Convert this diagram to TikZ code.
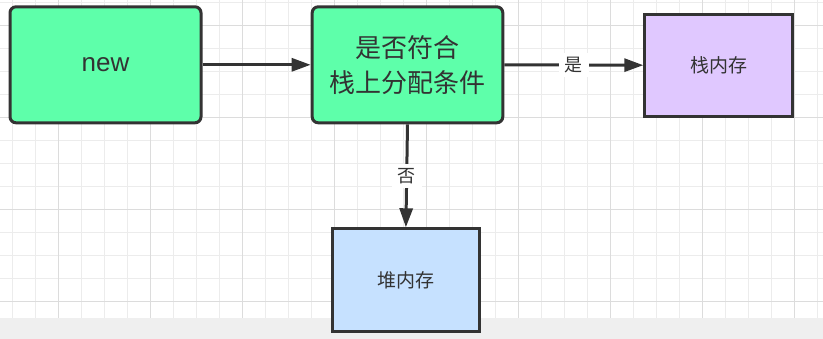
\documentclass[tikz,border=0pt]{standalone}
\usepackage{fontspec}
\setmainfont{Liberation Sans}
\newfontfamily\cjk{Noto Sans CJK SC}
\usetikzlibrary{arrows.meta}
\definecolor{txt}{HTML}{333333}
\definecolor{gminor}{HTML}{ECECEC}
\definecolor{gmajor}{HTML}{DCDCDC}
\definecolor{strip}{HTML}{EFEFEF}
\definecolor{greenbox}{HTML}{5EFFAA}
\definecolor{purplebox}{HTML}{E0C8FF}
\definecolor{bluebox}{HTML}{C6E1FF}
\tikzset{
  box/.style={draw=txt, line width=3pt, text=txt, align=center, inner sep=0pt},
  greenstyle/.style={box, fill=greenbox, rounded corners=6pt, minimum width=191pt, minimum height=116pt, font=\fontsize{26}{35}\selectfont},
  memstyle/.style={box, minimum width=148pt, minimum height=102pt, font=\cjk\fontsize{19}{24}\selectfont},
  conn/.style={draw=txt, line width=3pt, -{Triangle[length=19pt,width=13pt]}},
  lbl/.style={fill=white, text=txt, inner xsep=6pt, inner ysep=4pt, font=\cjk\fontsize{18}{22}\selectfont}
}
\begin{document}
\begin{tikzpicture}[x=1pt,y=-1pt]
\useasboundingbox (0,0) rectangle (823,339);
\fill[white] (0,0) rectangle (823,318);
\fill[strip] (0,318) rectangle (823,339);
% grid
\foreach \i in {0,...,35} {
  \pgfmathsetmacro\xx{12.5+23*\i}
  \draw[gminor, line width=1pt] (\xx,0) -- (\xx,318);
}
\foreach \j in {0,...,13} {
  \pgfmathsetmacro\yy{2.3+23*\j}
  \draw[gminor, line width=1pt] (0,\yy) -- (823,\yy);
}
\foreach \i in {0,...,8} {
  \pgfmathsetmacro\xx{58.5+92*\i}
  \draw[gmajor, line width=1pt] (\xx,0) -- (\xx,318);
}
\foreach \j in {0,...,3} {
  \pgfmathsetmacro\yy{25.3+92*\j}
  \draw[gmajor, line width=1pt] (0,\yy) -- (823,\yy);
}
% nodes
\node[greenstyle] (new) at (105.5,64.8) {new};
\node[greenstyle, minimum width=190.6pt] (cond) at (407.5,64.8) {\cjk 是否符合\\\cjk 栈上分配条件};
\node[memstyle, fill=purplebox] (stack) at (718.8,65.2) {栈内存};
\node[memstyle, fill=bluebox, minimum width=147.3pt, minimum height=102.4pt] (heap) at (405.9,280) {堆内存};
% connectors
\draw[conn] (new.east) -- (cond.west);
\draw[conn] (cond.east) -- node[lbl] {是} (stack.west);
\draw[conn] (cond.south) -- node[lbl] {否} (heap.north);
\end{tikzpicture}
\end{document}
